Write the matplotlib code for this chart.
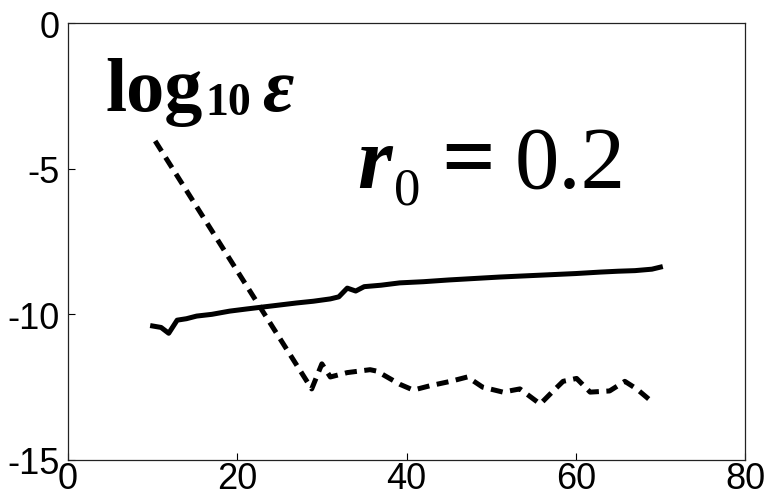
import numpy as np
import matplotlib
matplotlib.use('Agg')
import matplotlib.pyplot as plt

# datos
x_solid = [10, 11, 11.9, 12.9, 14, 15.2, 17, 19.1, 21, 23, 25, 27, 29, 31, 32, 33, 34, 35,
           37, 39.2, 42, 45, 48, 51, 54, 57, 60, 62.9, 65, 67, 69, 70]
y_solid = [-10.4, -10.45, -10.65, -10.2, -10.15, -10.06, -10.0, -9.89, -9.82, -9.75, -9.68, -9.61,
           -9.55, -9.47, -9.4, -9.1, -9.2, -9.05, -9.0, -8.92, -8.88, -8.82, -8.77, -8.72, -8.68,
           -8.64, -8.6, -8.55, -8.52, -8.5, -8.45, -8.38]

x_dash = [10.3, 28.8, 30, 31, 33, 35.7, 36.5, 39.2, 40.8, 42.8, 45.2, 47.2, 49, 51.4, 53.4,
          55.8, 57.2, 58.5, 60.1, 61.7, 64, 65.8, 67.2, 69]
y_dash = [-4.05, -12.56, -11.7, -12.15, -12.0, -11.9, -11.95, -12.4, -12.6, -12.45, -12.3,
          -12.15, -12.5, -12.67, -12.56, -13.08, -12.67, -12.3, -12.2, -12.67, -12.63, -12.3,
          -12.56, -13.0]

xticks = [0, 20, 40, 60, 80]
yticks = [-15, -10, -5, 0]

plt.rcParams['axes.unicode_minus'] = False

fig = plt.figure(figsize=(7.66, 5.02), dpi=100)
ax = fig.add_axes([68 / 766, 41 / 502, 677 / 766, 437 / 502])

ax.plot(x_solid, y_solid, color='black', lw=3.6, solid_joinstyle='round')
ax.plot(x_dash, y_dash, color='black', lw=3.6, linestyle=(0, (2.4, 1.5)))

ax.set_xlim(0, 80)
ax.set_ylim(-15, 0)
ax.set_xticks(xticks)
ax.set_yticks(yticks)
tick_font = ['Liberation Sans']
ax.set_xticklabels([str(t) for t in xticks], family=tick_font, fontsize=26)
ax.set_yticklabels([str(t) for t in yticks], family=tick_font, fontsize=26)
ax.tick_params(direction='in', length=5, width=0.8)
ax.tick_params(axis='x', pad=1)
ax.tick_params(axis='y', pad=6)
for s in ax.spines.values():
    s.set_linewidth(0.9)
    s.set_color('#222222')

# textos: log10 eps
serif = 'Liberation Serif'
t1 = ax.text(0.055, 0.80, 'log', transform=ax.transAxes, family=serif,
             fontweight='bold', fontsize=55, va='baseline', ha='left')
t2 = ax.annotate('10', xy=(1, 0), xycoords=t1, xytext=(2, 2), textcoords='offset points',
                 family=serif, fontweight='bold', fontsize=33, va='bottom', ha='left')
ax.annotate('ε', xy=(1, 0), xycoords=(t2, t1), xytext=(8, 0), textcoords='offset points',
            family=serif, fontweight='bold', style='italic', fontsize=55,
            va='bottom', ha='left')

# textos: r0 = 0.2
r = ax.text(0.427, 0.625, 'r', transform=ax.transAxes, family=serif,
            fontweight='bold', style='italic', fontsize=64, va='baseline', ha='left')
sub = ax.annotate('0', xy=(1, 0), xycoords=r, xytext=(2, -6), textcoords='offset points',
                  family=serif, fontsize=38, va='bottom', ha='left')
eq = ax.annotate('=', xy=(1, 0), xycoords=(sub, r), xytext=(15, 0),
                 textcoords='offset points', family=serif, fontweight='bold',
                 fontsize=68, va='bottom', ha='left')
ax.annotate('0.2', xy=(1, 0), xycoords=(eq, r), xytext=(14, 0),
            textcoords='offset points', family=serif, fontsize=64,
            va='bottom', ha='left')

fig.savefig('out.png', dpi=100)
